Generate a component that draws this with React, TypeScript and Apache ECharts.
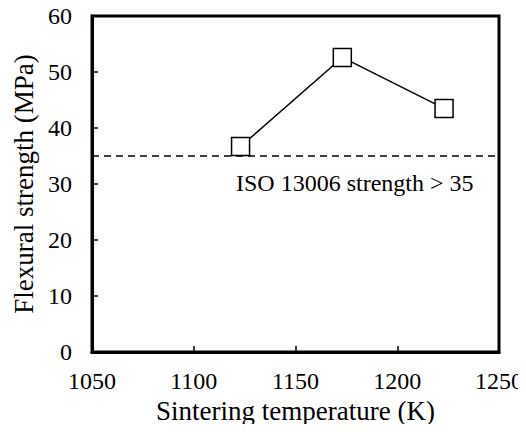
import React, { useEffect, useRef } from "react";
import * as echarts from "echarts";

const temperatures = [1123, 1173, 1223];
const strengths = [36.7, 52.6, 43.5];
const isoThreshold = 35;
const isoLabel = "ISO 13006 strength > 35";

export default function App() {
  const ref = useRef<HTMLDivElement>(null);
  useEffect(() => {
    if (!ref.current) return;
    const chart = echarts.init(ref.current, undefined, { renderer: "svg" });
    const font = "Liberation Serif";
    chart.setOption({
      animation: false,
      backgroundColor: "#fff",
      textStyle: { fontFamily: font },
      grid: {
        left: 92,
        right: 26,
        top: 16,
        bottom: 80,
        show: true,
        borderColor: "#000",
        borderWidth: 3,
        backgroundColor: "transparent",
      },
      xAxis: {
        type: "value",
        min: 1050,
        max: 1250,
        interval: 50,
        name: "Sintering temperature (K)",
        nameLocation: "middle",
        nameGap: 45,
        nameTextStyle: { fontFamily: font, fontSize: 27, color: "#000" },
        axisLine: { show: true, lineStyle: { color: "#000", width: 3 } },
        axisTick: { show: true, inside: true, length: 6, lineStyle: { color: "#000", width: 1.5 } },
        axisLabel: {
          fontFamily: font,
          fontSize: 24,
          color: "#000",
          margin: 17,
          formatter: (v: number) => String(v),
        },
        splitLine: { show: false },
      },
      yAxis: {
        type: "value",
        min: 0,
        max: 60,
        interval: 10,
        name: "Flexural strength (MPa)",
        nameLocation: "middle",
        nameGap: 55,
        nameTextStyle: { fontFamily: font, fontSize: 27, color: "#000" },
        axisLine: { show: true, lineStyle: { color: "#000", width: 3 } },
        axisTick: { show: true, inside: true, length: 6, lineStyle: { color: "#000", width: 1.5 } },
        axisLabel: { fontFamily: font, fontSize: 24, color: "#000", margin: 20 },
        splitLine: { show: false },
      },
      series: [
        {
          type: "line",
          data: temperatures.map((t, i) => [t, strengths[i]]),
          symbol: "rect",
          symbolSize: 18,
          itemStyle: { color: "#fff", borderColor: "#000", borderWidth: 1.5 },
          lineStyle: { color: "#000", width: 1.5 },
          markLine: {
            silent: true,
            symbol: "none",
            label: { show: false },
            lineStyle: { color: "#000", width: 1.5, type: [7, 5] },
            data: [{ yAxis: isoThreshold }],
          },
          z: 3,
        },
      ],
      graphic: [
        {
          type: "text",
          left: 236,
          top: 171,
          style: { text: isoLabel, fontFamily: font, fontSize: 24, fill: "#000" },
        },
      ],
    });
    return () => chart.dispose();
  }, []);
  return <div ref={ref} style={{ width: 526, height: 432, margin: -8 }} />;
}
